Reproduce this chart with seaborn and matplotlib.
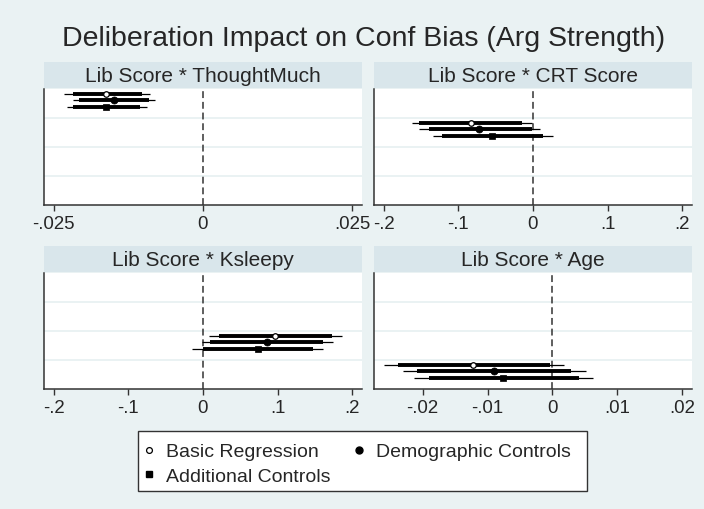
"""
Coefficient plot: deliberation impact on confirmation bias (argument strength)
"""

import matplotlib
matplotlib.use("Agg")
import matplotlib.pyplot as plt
from matplotlib.lines import Line2D
from matplotlib.patches import Rectangle
import pandas as pd
import seaborn as sns

# ---- data ----
models = ["Basic Regression", "Demographic Controls", "Additional Controls"]
panel_titles = ["Lib Score * ThoughtMuch", "Lib Score * CRT Score",
                "Lib Score * Ksleepy", "Lib Score * Age"]
panel_rows = [1, 2, 3, 4]

thoughtmuch_coef = [-0.0162, -0.0149, -0.0162]
thoughtmuch_lo95 = [-0.0232, -0.0217, -0.0228]
thoughtmuch_hi95 = [-0.0088, -0.0080, -0.0094]
thoughtmuch_lo90 = [-0.0217, -0.0207, -0.0217]
thoughtmuch_hi90 = [-0.0102, -0.0091, -0.0105]

crt_coef = [-0.0833, -0.0719, -0.0543]
crt_lo95 = [-0.1617, -0.1533, -0.1336]
crt_hi95 = [-0.0013, 0.0098, 0.0268]
crt_lo90 = [-0.1526, -0.1399, -0.1215]
crt_hi90 = [-0.0143, -0.0020, 0.0138]

ksleepy_coef = [0.0971, 0.0851, 0.0731]
ksleepy_lo95 = [0.0075, -0.0020, -0.0143]
ksleepy_hi95 = [0.1866, 0.1745, 0.1601]
ksleepy_lo90 = [0.0214, 0.0098, 0.0004]
ksleepy_hi90 = [0.1732, 0.1612, 0.1478]

age_coef = [-0.0122, -0.0090, -0.0076]
age_lo95 = [-0.0260, -0.0230, -0.0214]
age_hi95 = [0.0017, 0.0052, 0.0062]
age_lo90 = [-0.0238, -0.0209, -0.0191]
age_hi90 = [-0.0004, 0.0028, 0.0041]

thoughtmuch_ticks = [-0.025, 0, 0.025]
thoughtmuch_ticklabels = ["-.025", "0", ".025"]
crt_ticks = [-0.2, -0.1, 0, 0.1, 0.2]
crt_ticklabels = ["-.2", "-.1", "0", ".1", ".2"]
ksleepy_ticks = [-0.2, -0.1, 0, 0.1, 0.2]
ksleepy_ticklabels = ["-.2", "-.1", "0", ".1", ".2"]
age_ticks = [-0.02, -0.01, 0, 0.01, 0.02]
age_ticklabels = ["-.02", "-.01", "0", ".01", ".02"]

panel_xlims = [(-0.0266, 0.0266), (-0.213, 0.213), (-0.213, 0.213), (-0.0275, 0.0215)]

# build one long table
rows = []
panel_data = [
    (thoughtmuch_coef, thoughtmuch_lo95, thoughtmuch_hi95, thoughtmuch_lo90, thoughtmuch_hi90),
    (crt_coef, crt_lo95, crt_hi95, crt_lo90, crt_hi90),
    (ksleepy_coef, ksleepy_lo95, ksleepy_hi95, ksleepy_lo90, ksleepy_hi90),
    (age_coef, age_lo95, age_hi95, age_lo90, age_hi90),
]
for p, (coef, lo95, hi95, lo90, hi90) in enumerate(panel_data):
    for m, model in enumerate(models):
        rows.append({'Panel': p, 'Model': model, 'Row': panel_rows[p],
                     'Coef': coef[m], 'Lo95': lo95[m], 'Hi95': hi95[m],
                     'Lo90': lo90[m], 'Hi90': hi90[m]})
df = pd.DataFrame(rows)

panel_ticks = [(thoughtmuch_ticks, thoughtmuch_ticklabels), (crt_ticks, crt_ticklabels),
               (ksleepy_ticks, ksleepy_ticklabels), (age_ticks, age_ticklabels)]

# ---- style ----
sns.set_theme(style="white")
plt.rcParams['font.family'] = ['Liberation Sans', 'DejaVu Sans']

BG = "#EAF2F3"
STRIP = "#D9E6EB"
GRID = "#EAF2F3"
AXC = "#333333"

model_offset = {"Basic Regression": -0.34, "Demographic Controls": -0.115, "Additional Controls": 0.11}
model_marker = {
    "Basic Regression": dict(marker='o', s=16, color='white', edgecolor='black', linewidth=0.9),
    "Demographic Controls": dict(marker='o', s=26, color='black', edgecolor='black', linewidth=0.5),
    "Additional Controls": dict(marker='s', s=24, color='black', edgecolor='black', linewidth=0.5),
}

W, H = 704, 510
fig = plt.figure(figsize=(W / 100, H / 100), dpi=100, facecolor=BG)


def box(l, t, r, b):
    return [l / W, 1 - b / H, (r - l) / W, (b - t) / H]


layout = [(44, 362, 90, 206), (374, 692, 90, 206), (44, 362, 274, 390), (374, 692, 274, 390)]

for p, (l, r, t, b) in enumerate(layout):
    # strip header
    sax = fig.add_axes(box(l, t - 27, r, t - 1))
    sax.set_facecolor(STRIP)
    sax.set_xticks([])
    sax.set_yticks([])
    for s in sax.spines.values():
        s.set_visible(False)
    sax.text(0.5, 0.47, panel_titles[p], ha='center', va='center', fontsize=15,
             transform=sax.transAxes)

    ax = fig.add_axes(box(l, t, r, b))
    ax.set_facecolor('white')
    for g in [1.5, 2.5, 3.5]:
        ax.axhline(g, color=GRID, lw=1.4, zorder=1)
    ax.axvline(0, color=AXC, lw=1.1, ls=(0, (4.5, 2.5)), zorder=1.5)

    sub = df[df['Panel'] == p]
    for model in models:
        d = sub[sub['Model'] == model]
        y = d['Row'] + model_offset[model]
        ax.hlines(y, d['Lo95'], d['Hi95'], color='black', lw=0.9, zorder=2)
        ax.hlines(y, d['Lo90'], d['Hi90'], color='black', lw=2.8, zorder=3)
        sns.scatterplot(x=d['Coef'], y=y, ax=ax, zorder=4, legend=False,
                        **model_marker[model])

    ax.set_ylim(4.5, 0.5)
    ax.set_xlim(*panel_xlims[p])
    ax.set_yticks([])
    ticks, labels = panel_ticks[p]
    ax.set_xticks(ticks)
    ax.set_xticklabels(labels)
    ax.set_xlabel('')
    ax.set_ylabel('')
    ax.spines['top'].set_visible(False)
    ax.spines['right'].set_visible(False)
    for s in ['left', 'bottom']:
        ax.spines[s].set_color(AXC)
        ax.spines[s].set_linewidth(1.1)
    ax.tick_params(axis='x', direction='out', length=4, width=1, color=AXC,
                   labelsize=13.4, pad=3, bottom=True)

fig.text(364 / W, 1 - 39 / H, "Deliberation Impact on Conf Bias (Arg Strength)",
         ha='center', va='center', fontsize=20.5)

# legend box drawn by hand so its edges match, entries placed by fig.legend
fig.add_artist(Rectangle((138 / W, 1 - 492 / H), (587 - 138) / W, (492 - 432) / H,
                         transform=fig.transFigure, facecolor='white',
                         edgecolor=AXC, linewidth=1, zorder=5))

handles = {
    "Basic Regression": Line2D([], [], ls='none', marker='o', markersize=4.2,
                               markerfacecolor='white', markeredgecolor='black', markeredgewidth=0.9),
    "Demographic Controls": Line2D([], [], ls='none', marker='o', markersize=5,
                                   markerfacecolor='black', markeredgecolor='black'),
    "Additional Controls": Line2D([], [], ls='none', marker='s', markersize=4.5,
                                  markerfacecolor='black', markeredgecolor='black'),
}
# row-wise order with ncol=2
order = ["Basic Regression", "Additional Controls", "Demographic Controls"]
leg = fig.legend([handles[k] for k in order], order, loc='upper left',
                 bbox_to_anchor=(142 / W, 1 - 439 / H), ncol=2, frameon=False,
                 fontsize=14, handlelength=0.2, handletextpad=0.8,
                 columnspacing=1.35, borderpad=0.25, labelspacing=0.36,
                 borderaxespad=0)
leg.set_zorder(6)

fig.savefig('out.png', dpi=100, facecolor=BG)
